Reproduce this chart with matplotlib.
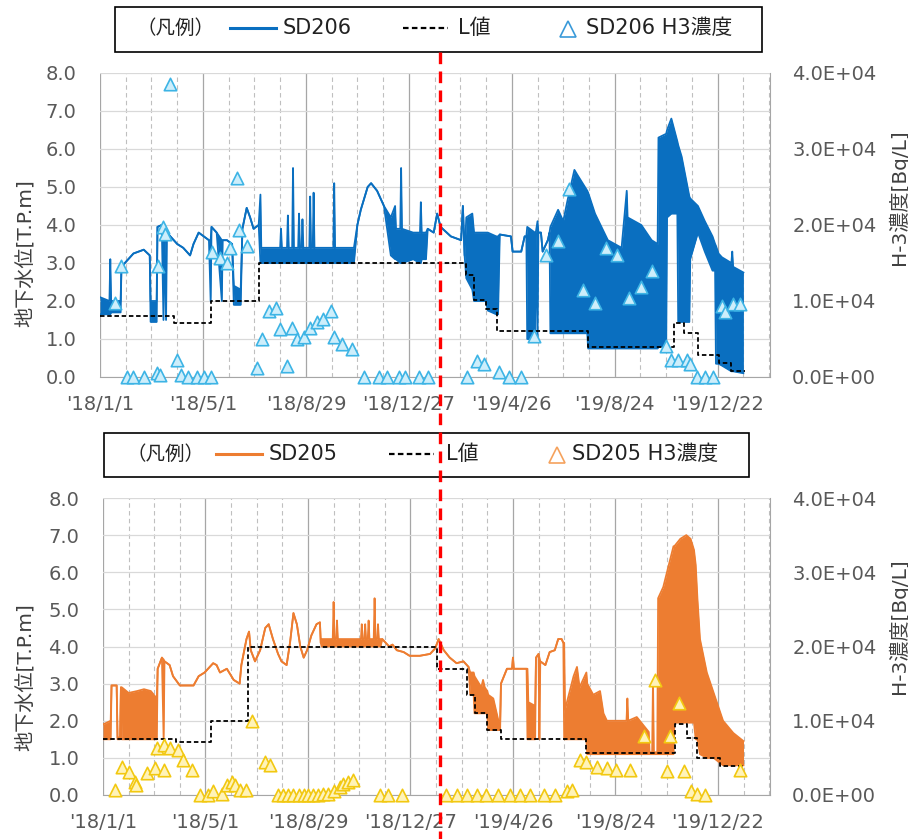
import numpy as np
import pandas as pd
import matplotlib
matplotlib.use("Agg")
import matplotlib.pyplot as plt
import matplotlib.dates as mdates
from matplotlib.lines import Line2D
from matplotlib.patches import Rectangle
from matplotlib.ticker import FixedLocator, FuncFormatter, MultipleLocator
from matplotlib.transforms import blended_transform_factory

plt.rcParams['font.family'] = ['DejaVu Sans', 'Noto Sans CJK JP']

BASE = pd.Timestamp('2018-01-01')
END_DAY = 781          # right end of the date axis
RED_DAY = 396          # red dashed marker line

# ---- SD206 water level (days since 2018-01-01, upper / lower envelope, T.P.m)
sd206_day = [0, 11, 12, 13, 24, 25, 29, 39, 51, 58, 59, 66, 67, 72, 74, 75, 77, 78,
             90, 97, 105, 109, 115, 121, 127, 129, 130, 136, 142, 143, 148, 154, 156,
             164, 166, 171, 175, 179, 185, 187, 188, 210, 211, 212, 218, 219, 220,
             224, 225, 226, 231, 232, 233, 235, 236, 237, 244, 245, 246, 248, 249,
             250, 272, 273, 274, 296, 300, 304, 312, 316, 323, 331, 339, 344, 345,
             350, 351, 352, 365, 373, 374, 375, 380, 382, 389, 393, 397, 409, 421,
             423, 425, 427, 434, 436, 450, 452, 462, 464, 466, 479, 481, 491, 495,
             497, 498, 507, 508, 510, 511, 514, 516, 522, 524, 525, 534, 540, 545,
             553, 557, 568, 569, 577, 592, 608, 614, 615, 631, 643, 650, 651, 660,
             661, 666, 673, 674, 678, 687, 688, 697, 705, 714, 717, 718, 721, 725,
             736, 737, 738, 750]
sd206_hi = [2.1, 2.0, 3.1, 2.0, 2.0, 2.9, 3.0, 3.25, 3.35, 3.2, 2.0, 2.0, 3.95, 4.0, 3.95, 3.9, 3.85, 3.8,
            3.5, 3.4, 3.2, 3.5, 3.8, 3.7, 3.6, 3.6, 3.95, 3.8, 3.6, 3.6, 3.6, 3.5, 2.4,
            2.3, 3.9, 4.45, 4.2, 3.9, 4.0, 4.8, 3.4, 3.4, 3.9, 3.4, 3.4, 4.25, 3.4,
            3.4, 5.5, 3.4, 3.4, 4.3, 3.4, 3.4, 4.15, 3.4, 3.4, 4.75, 3.4, 3.4, 4.85,
            3.4, 3.4, 5.1, 3.4, 3.4, 4.0, 4.4, 5.0, 5.1, 4.9, 4.5, 4.2, 4.5, 3.9,
            3.9, 5.5, 3.9, 3.8, 3.8, 4.6, 3.8, 3.8, 3.9, 3.8, 4.3, 3.95, 3.7, 3.6,
            4.5, 3.2, 4.2, 4.3, 3.8, 3.8, 3.8, 3.7, 3.7, 3.75, 3.7, 3.3, 3.3, 3.7,
            3.7, 3.95, 3.8, 3.8, 4.1, 3.8, 3.8, 3.3, 3.6, 3.8, 3.95, 4.4, 4.1, 4.65,
            5.45, 5.3, 4.9, 4.85, 4.3, 3.6, 3.4, 4.9, 4.2, 4.0, 3.6, 3.5, 6.3, 6.4,
            6.5, 6.8, 6.2, 6.1, 5.8, 4.75, 4.7, 4.5, 4.1, 3.7, 3.5, 3.45, 3.25, 3.15,
            3.0, 3.3, 2.9, 2.75]
sd206_lo = [1.65, 1.65, 1.65, 1.7, 1.7, 2.9, 3.0, 3.25, 3.35, 3.2, 1.45, 1.45, 3.95, 4.0, 1.5, 3.9, 1.5, 3.8,
            3.5, 3.4, 3.2, 3.5, 3.8, 3.7, 3.6, 2.0, 3.95, 3.8, 2.0, 3.6, 3.6, 3.5, 1.9,
            1.9, 3.9, 4.45, 4.2, 3.9, 4.0, 3.0, 3.0, 3.0, 3.0, 3.0, 3.0, 3.0, 3.0,
            3.0, 3.0, 3.0, 3.0, 3.0, 3.0, 3.0, 3.0, 3.0, 3.0, 3.0, 3.0, 3.0, 3.0,
            3.0, 3.0, 3.0, 3.0, 3.0, 4.0, 4.4, 5.0, 5.1, 4.9, 4.5, 3.2, 3.1, 3.1,
            3.0, 3.0, 3.0, 3.1, 3.0, 3.0, 3.1, 3.1, 3.9, 3.8, 4.3, 3.95, 3.7, 3.6,
            4.5, 3.2, 2.6, 2.3, 2.0, 2.0, 1.75, 1.65, 1.65, 3.75, 3.7, 3.3, 3.3, 3.7,
            3.7, 1.0, 1.0, 3.8, 1.0, 3.8, 3.8, 3.3, 3.6, 3.8, 1.15, 1.15, 1.15, 1.15,
            1.15, 1.15, 1.15, 0.75, 0.75, 0.75, 0.75, 0.75, 0.75, 0.75, 0.75, 0.75, 0.8, 0.8,
            4.2, 4.3, 4.3, 1.45, 1.45, 1.45, 3.1, 3.8, 3.3, 2.8, 2.8, 0.35, 0.35, 0.3,
            0.15, 0.15, 0.15, 0.1]

# L value for SD206 (step changes, T.P.m)
l206_day = [0, 86, 129, 185, 427, 436, 450, 463, 569, 669, 681, 697, 721, 736, 752]
l206_val = [1.6, 1.43, 2.0, 3.0, 2.68, 2.03, 1.8, 1.22, 0.8, 1.42, 1.15, 0.58, 0.37, 0.15, 0.15]

# SD206 H3 concentration (Bq/L)
h3_206_day = [17, 25, 31, 39, 51, 66, 68, 70, 74, 76, 82, 90, 95, 103, 113, 121, 129, 130,
              140, 148, 152, 160, 162, 171, 183, 189, 197, 205, 210, 218, 224, 230, 238,
              245, 253, 260, 269, 273, 282, 294, 308, 325, 335, 349, 356, 372, 382, 428,
              440, 448, 465, 477, 491, 506, 520, 534, 547, 563, 577, 590, 603, 617, 631,
              643, 660, 666, 674, 684, 688, 696, 705, 715, 725, 728, 738, 746]
h3_206_val = [9800, 14600, 0, 0, 0, 500, 14600, 200, 19700, 18800, 38500, 2300, 200, 0, 0, 0, 0, 16400,
              15700, 15000, 17000, 26200, 19400, 17200, 1200, 5000, 8700, 9100, 6300, 1400, 6500, 5000, 5200,
              6500, 7200, 7600, 8700, 5200, 4300, 3700, 0, 0, 0, 0, 0, 0, 0, 0,
              2100, 1700, 600, 0, 0, 5400, 16000, 17900, 24700, 11500, 9800, 17000, 16000, 10400, 11800,
              14000, 4100, 2300, 2300, 2300, 1700, 0, 0, 0, 9300, 8500, 9600, 9600]

# ---- SD205 water level
sd205_day = [0, 9, 10, 16, 17, 20, 21, 22, 30, 40, 48, 56, 63, 64, 69, 71, 72, 78, 82,
             90, 98, 106, 112, 119, 129, 133, 137, 145, 153, 160, 162, 168, 171, 173,
             178, 184, 190, 194, 199, 205, 209, 215, 219, 223, 227, 231, 235, 239, 244,
             250, 254, 255, 256, 269, 270, 271, 273, 274, 275, 302, 303, 304, 306, 307,
             308, 310, 311, 312, 317, 318, 319, 321, 322, 323, 325, 327, 335, 339, 344,
             352, 359, 371, 383, 389, 393, 399, 406, 414, 422, 428, 430, 434, 435, 443,
             445, 447, 450, 451, 457, 463, 465, 466, 473, 479, 480, 481, 496, 497, 498,
             506, 507, 510, 511, 512, 518, 523, 529, 533, 537, 539, 540, 541, 551, 555,
             558, 566, 567, 574, 582, 586, 590, 613, 614, 615, 625, 639, 640, 643, 644,
             645, 649, 650, 656, 668, 669, 676, 683, 688, 692, 694, 696, 699, 707, 715,
             726, 738, 750]
sd205_hi = [1.9, 2.0, 2.95, 2.95, 1.55, 1.55, 2.9, 2.9, 2.75, 2.8, 2.85, 2.8, 2.6, 3.4, 3.7, 3.65, 3.6, 3.5, 3.2,
            2.95, 2.95, 2.95, 3.2, 3.3, 3.55, 3.5, 3.3, 3.4, 3.1, 3.0, 3.5, 4.2, 4.4, 3.9,
            3.6, 3.9, 4.5, 4.6, 4.2, 3.8, 3.6, 3.5, 4.1, 4.9, 4.6, 4.0, 3.7, 3.9, 4.3,
            4.6, 4.65, 4.1, 4.2, 4.2, 5.2, 4.2, 4.2, 4.7, 4.2, 4.2, 4.6, 4.2, 4.2, 4.6,
            4.2, 4.2, 4.7, 4.2, 4.2, 5.3, 4.2, 4.2, 4.6, 4.2, 4.2, 4.2, 4.0, 4.05, 3.9,
            3.85, 3.75, 3.75, 3.8, 3.95, 4.2, 3.9, 3.7, 3.55, 3.6, 3.45, 3.3, 3.3, 3.2, 2.9,
            3.1, 2.9, 2.8, 2.7, 2.6, 2.0, 2.0, 3.0, 3.4, 3.4, 3.7, 3.4, 3.4, 3.4, 2.5,
            2.4, 3.7, 3.8, 3.7, 3.6, 3.5, 3.85, 3.9, 4.2, 4.2, 4.1, 4.1, 2.3, 3.2, 3.45,
            2.9, 3.3, 3.0, 2.7, 2.8, 2.2, 2.0, 2.0, 2.6, 2.0, 2.1, 1.7, 1.15, 1.15, 3.1,
            1.15, 1.15, 5.3, 5.6, 6.7, 6.7, 6.9, 7.0, 6.9, 6.6, 6.2, 5.3, 4.2, 3.3, 2.75,
            2.0, 1.67, 1.45]
sd205_lo = [1.5, 1.5, 2.95, 2.95, 1.5, 1.5, 2.9, 1.5, 1.5, 1.5, 1.5, 1.5, 1.5, 3.4, 3.7, 1.5, 3.6, 3.5, 3.2,
            2.95, 2.95, 2.95, 3.2, 3.3, 3.55, 3.5, 3.3, 3.4, 3.1, 3.0, 3.5, 4.2, 4.4, 3.9,
            3.6, 3.9, 4.5, 4.6, 4.2, 3.8, 3.6, 3.5, 4.1, 4.9, 4.6, 4.0, 3.7, 3.9, 4.3,
            4.6, 4.65, 4.1, 4.0, 4.0, 4.0, 4.0, 4.0, 4.0, 4.0, 4.0, 4.0, 4.0, 4.0, 4.0,
            4.0, 4.0, 4.0, 4.0, 4.0, 4.0, 4.0, 4.0, 4.0, 4.0, 4.0, 4.2, 4.0, 4.05, 3.9,
            3.85, 3.75, 3.75, 3.8, 3.95, 4.2, 3.9, 3.7, 3.55, 3.6, 3.45, 2.7, 2.7, 2.2, 2.2,
            2.2, 2.2, 2.2, 1.75, 1.75, 1.75, 1.75, 3.0, 3.4, 3.4, 3.7, 3.4, 3.4, 1.5, 1.5,
            1.5, 3.7, 3.8, 1.5, 3.6, 3.5, 3.85, 3.9, 4.2, 4.2, 4.1, 1.5, 1.5, 1.5, 1.5,
            1.5, 1.5, 1.1, 1.1, 1.1, 1.1, 1.1, 1.1, 1.1, 1.1, 1.1, 1.1, 1.1, 1.1, 1.1,
            1.1, 1.1, 1.1, 1.1, 1.1, 1.95, 1.95, 1.95, 1.95, 1.95, 1.5, 1.5, 1.1, 1.0, 1.0,
            0.8, 0.8, 0.8]

# L value for SD205
l205_day = [0, 86, 127, 170, 391, 426, 435, 450, 466, 566, 670, 684, 695, 722, 750]
l205_val = [1.5, 1.43, 2.0, 4.0, 3.4, 2.7, 2.2, 1.75, 1.5, 1.12, 1.9, 1.53, 1.0, 0.78, 0.78]

# SD205 H3 concentration (Bq/L)
h3_205_day = [14, 22, 30, 37, 39, 51, 61, 63, 71, 71, 78, 88, 94, 104, 114, 123, 129, 139,
              145, 151, 155, 160, 168, 174, 190, 196, 205, 211, 217, 223, 229, 235, 240,
              246, 252, 258, 264, 270, 277, 281, 287, 293, 324, 334, 350, 402, 414, 426,
              438, 449, 463, 477, 488, 500, 516, 529, 543, 549, 559, 566, 578, 590, 601,
              617, 633, 646, 660, 664, 674, 680, 688, 695, 705, 746]
h3_205_val = [700, 3800, 3100, 1800, 1300, 2900, 3600, 6300, 3400, 6700, 6300, 6000, 4700, 3400, 0, 0, 500, 200,
              1300, 1800, 1300, 700, 700, 9900, 4500, 4000, 0, 0, 0, 0, 0, 0, 0,
              0, 0, 200, 200, 500, 1100, 1500, 1800, 2000, 0, 0, 0, 0, 0, 0,
              0, 0, 0, 0, 0, 0, 0, 0, 500, 700, 4700, 4500, 3800, 3600, 3400,
              3400, 7900, 15500, 3200, 7900, 12400, 3200, 500, 200, 0, 3400]

major_days = [0, 120, 240, 360, 480, 600, 720]
minor_days = list(range(0, END_DAY, 30))

BLUE = '#0a6fc0'
ORANGE = '#ed7d31'
TICK_C = '#595959'
W, H = 908, 839


def dates(days):
    return (BASE + pd.to_timedelta(np.asarray(days, dtype=float), unit='D')).to_numpy()


def date_label(x, pos):
    d = mdates.num2date(x)
    return "'%02d/%d/%d" % (d.year % 100, d.month, d.day)


def fbox(x0, y0, x1, y1):
    # pixel box (top-left origin) -> figure fraction rect
    return [x0 / W, 1 - y1 / H, (x1 - x0) / W, (y1 - y0) / H]


def panel(rect, day, hi, lo, lday, lval, hday, hval, color, tri_edge, tri_face):
    ax = fig.add_axes(rect)
    t = dates(day)
    ax.fill_between(t, lo, hi, color=color, lw=0, zorder=2)
    ax.plot(t, hi, color=color, lw=1.3, zorder=2)
    ax.plot(t, lo, color=color, lw=1.3, zorder=2)
    ax.plot(dates(lday), lval, color='black', lw=1.3, ls=(0, (2.5, 1.5)),
            drawstyle='steps-post', zorder=3)
    ax.set_ylim(0, 8)
    ax.set_xlim(dates([0, END_DAY]))
    ax.yaxis.set_major_locator(MultipleLocator(1))
    ax.yaxis.set_major_formatter(FuncFormatter(lambda v, p: '%.1f' % v))
    ax.xaxis.set_major_locator(FixedLocator(mdates.date2num(dates(major_days))))
    ax.xaxis.set_minor_locator(FixedLocator(mdates.date2num(dates(minor_days))))
    ax.xaxis.set_major_formatter(FuncFormatter(date_label))
    ax.grid(axis='y', color='#d9d9d9', lw=0.9, zorder=0)
    ax.grid(axis='x', which='major', color='#a6a6a6', lw=0.9, zorder=0)
    ax.grid(axis='x', which='minor', color='#bfbfbf', lw=0.8, ls=(0, (4, 3)), zorder=0)
    ax.set_axisbelow(True)
    for s in ['top', 'left']:
        ax.spines[s].set_visible(False)
    for s in ['bottom', 'right']:
        ax.spines[s].set_color('#a6a6a6')
    ax.tick_params(axis='y', length=0, pad=17, labelsize=14, labelcolor=TICK_C)
    ax.tick_params(axis='x', which='both', length=0, pad=13, labelsize=14, labelcolor=TICK_C)

    ax2 = ax.twinx()
    ax2.scatter(dates(hday), hval, marker='^', s=80, facecolor=tri_face,
                edgecolor=tri_edge, linewidth=1.2, zorder=4, clip_on=False)
    ax2.set_ylim(0, 40000)
    ax2.yaxis.set_major_locator(MultipleLocator(10000))
    ax2.yaxis.set_major_formatter(FuncFormatter(lambda v, p: '%.1E' % v))
    ax2.tick_params(axis='y', length=0, pad=16, labelsize=14, labelcolor=TICK_C)
    for s in ax2.spines.values():
        s.set_visible(False)
    return ax


fig = plt.figure(figsize=(W / 100, H / 100), dpi=100)

ax_top = panel(fbox(100, 73, 770, 377), sd206_day, sd206_hi, sd206_lo,
               l206_day, l206_val, h3_206_day, h3_206_val, BLUE, '#3db4e5', '#cdeefb')
ax_bot = panel(fbox(103, 498, 770, 795), sd205_day, sd205_hi, sd205_lo,
               l205_day, l205_val, h3_205_day, h3_205_val, ORANGE, '#f2c811', '#fff3b8')

# axis titles
lab = dict(rotation=90, ha='center', va='center', fontsize=14.5, color='#404040')
fig.text(25 / W, 1 - 253 / H, '地下水位[T.P.m]', **lab)
fig.text(898 / W, 1 - 197 / H, 'H-3濃度[Bq/L]', **lab)
fig.text(25 / W, 1 - 677 / H, '地下水位[T.P.m]', **lab)
fig.text(898 / W, 1 - 626 / H, 'H-3濃度[Bq/L]', **lab)

# legend boxes (pixel coordinates overlay)
ov = fig.add_axes([0, 0, 1, 1], zorder=5)
ov.set_xlim(0, W)
ov.set_ylim(H, 0)
ov.axis('off')
ov.patch.set_alpha(0)


def legend_box(x0, y0, x1, y1, yc, kx, line_x, name, dash_x, lx, tri_x, tri_c, tx, line_c):
    ov.add_patch(Rectangle((x0, y0), x1 - x0, y1 - y0, fill=False, ec='black', lw=1.2))
    ov.text(kx, yc, '（凡例）', ha='center', va='center', fontsize=14, color='#222222')
    ov.plot(line_x, [yc, yc], color=line_c, lw=2.2)
    ov.text(line_x[1] + 7, yc, name, ha='left', va='center', fontsize=15, color='#222222')
    ov.plot(dash_x, [yc, yc], color='black', lw=1.6, ls=(0, (2.5, 1.5)))
    ov.text(lx, yc, 'L値', ha='left', va='center', fontsize=15, color='#222222')
    ov.plot([tri_x], [yc + 1], marker='^', ms=11, mfc='white', mec=tri_c, mew=1.2)
    ov.text(tx, yc, name + ' H3濃度', ha='left', va='center', fontsize=15, color='#222222')


legend_box(115, 7, 762, 52, 28, 176, [230, 276], 'SD206', [403, 448], 458,
           568, '#3a9ad9', 586, BLUE)
legend_box(104, 433, 749, 477, 454, 165, [216, 262], 'SD205', [389, 434], 446,
           557, '#f5a25d', 572, ORANGE)

# red dashed reference date line across both panels
tr = blended_transform_factory(ax_top.transData, fig.transFigure)
xr = mdates.date2num(dates([RED_DAY]))[0]
fig.add_artist(Line2D([xr, xr], [1 - 52 / H, 0], transform=tr, color='#ff0000',
                      lw=2.4, ls=(0, (3.5, 2.2)), zorder=10))

fig.savefig('out.png', dpi=100)
